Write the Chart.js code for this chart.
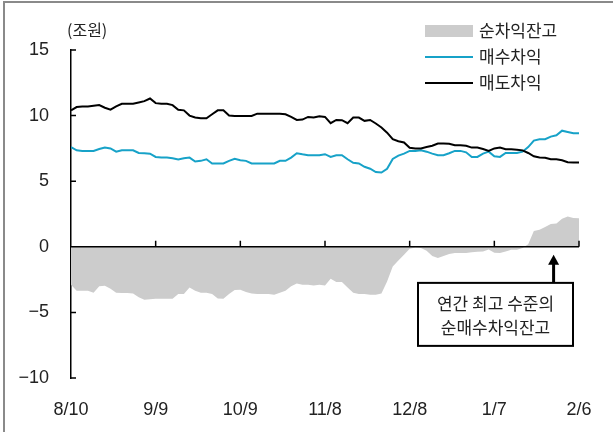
<!DOCTYPE html>
<html>
<head>
<meta charset="utf-8">
<script src="https://cdn.jsdelivr.net/npm/chart.js@4/dist/chart.umd.min.js"></script>
<style>
  body { margin: 0; background: #fff; }
  #wrap { position: relative; width: 613px; height: 432px; }
  #frame { position: absolute; left: 3px; top: 1px; right: 0; bottom: 0;
           border-top: 2px solid #8a8a8a; border-left: 2px solid #8a8a8a; pointer-events: none; }
  canvas { position: absolute; left: 0; top: 0; }
</style>
</head>
<body>
<div id="wrap">
  <canvas id="graphe" width="613" height="432"></canvas>
  <div id="frame"></div>
</div>
<script>
// x ticks (30 days apart, starting 8/10)
const tickLabels = ["8/10", "9/9", "10/9", "11/8", "12/8", "1/7", "2/6"];

// one point every 2 days, 8/10 -> 2/6
const days = Array.from({ length: 91 }, (_, i) => i * 2);

// 매수차익 (조원)
const achat = [
    7.6, 7.35, 7.31, 7.31, 7.31, 7.45, 7.56, 7.5, 7.25, 7.36,
    7.36, 7.36, 7.15, 7.13, 7.1, 6.85, 6.8, 6.8, 6.75, 6.65,
    6.75, 6.8, 6.5, 6.55, 6.67, 6.35, 6.35, 6.35, 6.55, 6.7,
    6.6, 6.55, 6.35, 6.35, 6.35, 6.35, 6.35, 6.55, 6.55, 6.8,
    7.13, 7.05, 6.98, 6.98, 6.98, 7.06, 6.85, 6.98, 6.98, 6.67,
    6.4, 6.35, 6.1, 5.95, 5.7, 5.66, 5.95, 6.7, 6.95, 7.1,
    7.31, 7.3, 7.35, 7.25, 7.1, 6.98, 6.98, 7.13, 7.31, 7.31,
    7.2, 6.85, 6.85, 7.1, 7.25, 6.9, 6.85, 7.15, 7.15, 7.15,
    7.25, 7.6, 8.1, 8.2, 8.2, 8.4, 8.5, 8.85, 8.75, 8.65,
    8.65
];

// 매도차익 (조원)
const vente = [
    10.4, 10.65, 10.7, 10.7, 10.75, 10.8, 10.6, 10.45, 10.7, 10.9,
    10.9, 10.9, 11.0, 11.1, 11.3, 10.95, 10.9, 10.9, 10.8, 10.45,
    10.4, 10.0, 9.85, 9.8, 9.8, 10.1, 10.4, 10.4, 10.0, 9.97,
    9.97, 9.97, 9.97, 10.15, 10.15, 10.15, 10.15, 10.15, 10.1, 9.9,
    9.67, 9.7, 9.9, 9.85, 9.95, 9.9, 9.42, 9.67, 9.65, 9.42,
    9.85, 9.85, 9.6, 9.67, 9.4, 9.1, 8.7, 8.2, 8.05, 7.95,
    7.55, 7.5, 7.5, 7.6, 7.7, 7.87, 7.87, 7.85, 7.74, 7.74,
    7.7, 7.56, 7.56, 7.45, 7.31, 7.5, 7.56, 7.44, 7.44, 7.4,
    7.35, 7.15, 6.9, 6.8, 6.78, 6.67, 6.67, 6.6, 6.45, 6.42,
    6.42
];

// 순차익잔고 (조원)
const solde = [
    -2.9, -3.35, -3.35, -3.35, -3.5, -3.0, -2.97, -3.2, -3.5, -3.53,
    -3.53, -3.55, -3.85, -4.04, -4.0, -3.96, -3.96, -3.96, -3.96, -3.6,
    -3.6, -3.1, -3.35, -3.5, -3.5, -3.6, -3.95, -3.96, -3.6, -3.3,
    -3.27, -3.45, -3.55, -3.6, -3.6, -3.6, -3.65, -3.5, -3.35, -3.0,
    -2.8, -2.9, -2.9, -2.95, -2.9, -2.95, -2.44, -2.69, -2.69, -3.1,
    -3.5, -3.6, -3.6, -3.65, -3.65, -3.55, -2.64, -1.5, -1.05, -0.6,
    -0.15, -0.05, -0.1, -0.3, -0.7, -0.86, -0.7, -0.55, -0.48, -0.48,
    -0.48, -0.42, -0.38, -0.36, -0.2, -0.45, -0.48, -0.35, -0.23, -0.23,
    -0.1, 0.2, 1.2, 1.3, 1.5, 1.73, 1.78, 2.13, 2.3, 2.2,
    2.18
];

const bleu = "#17a2c8";
const gris = "#cccccc";
const numFont = "18px 'Liberation Sans', Arial, sans-serif";
const krFont = "17px 'Noto Sans CJK KR', sans-serif";

// Décor : ligne du zéro, petits tirets, titre, légende et annotation
const decor = {
    id: "decor",
    afterDatasetsDraw(chart) {
        const ctx = chart.ctx;
        const x = chart.scales.x, y = chart.scales.y;
        const y0 = y.getPixelForValue(0);
        ctx.save();
        ctx.strokeStyle = "#000";
        ctx.lineWidth = 1.5;
        ctx.beginPath();
        ctx.moveTo(x.left, y0);
        ctx.lineTo(x.right, y0);
        // tirets de l'axe x, vers le haut
        x.ticks.forEach(t => {
            if (t.value === 0) return;
            const px = x.getPixelForValue(t.value);
            ctx.moveTo(px, y0);
            ctx.lineTo(px, y0 - 6);
        });
        // tirets de l'axe y, vers l'intérieur
        y.ticks.forEach(t => {
            const py = y.getPixelForValue(t.value);
            ctx.moveTo(x.left, py);
            ctx.lineTo(x.left + 5, py);
        });
        ctx.stroke();

        // unité
        ctx.fillStyle = "#222";
        ctx.font = "16px 'Noto Sans CJK KR', sans-serif";
        ctx.textAlign = "left";
        ctx.textBaseline = "middle";
        ctx.fillText("(조원)", 67, 30);

        // légende
        ctx.font = krFont;
        const ds = chart.data.datasets;
        const lx = 425, rows = [31, 57, 83];
        ds.forEach((d, i) => {
            const ly = rows[i];
            if (d.fill) {
                ctx.fillStyle = d.backgroundColor;
                ctx.fillRect(lx, ly - 6, 48, 12);
            } else {
                ctx.strokeStyle = d.borderColor;
                ctx.lineWidth = 2;
                ctx.beginPath();
                ctx.moveTo(lx, ly);
                ctx.lineTo(lx + 48, ly);
                ctx.stroke();
            }
            ctx.fillStyle = "#222";
            ctx.fillText(d.label, lx + 54, ly);
        });

        // annotation
        const ax = x.getPixelForValue(171);
        const tipY = y.getPixelForValue(-0.6);
        const boxTop = y.getPixelForValue(-2.75);
        const boxL = 418, boxR = 573, boxB = boxTop + 63;
        ctx.strokeStyle = "#000";
        ctx.lineWidth = 2;
        ctx.strokeRect(boxL, boxTop, boxR - boxL, boxB - boxTop);
        ctx.lineWidth = 3;
        ctx.beginPath();
        ctx.moveTo(ax, boxTop);
        ctx.lineTo(ax, tipY + 8);
        ctx.stroke();
        ctx.fillStyle = "#000";
        ctx.beginPath();
        ctx.moveTo(ax, tipY);
        ctx.lineTo(ax - 5.5, tipY + 10);
        ctx.lineTo(ax + 5.5, tipY + 10);
        ctx.closePath();
        ctx.fill();
        ctx.fillStyle = "#222";
        ctx.textAlign = "center";
        ctx.font = krFont;
        const cx = (boxL + boxR) / 2;
        ctx.fillText("연간 최고 수준의", cx, boxTop + 21);
        ctx.fillText("순매수차익잔고", cx, boxTop + 45);
        ctx.restore();
    }
};

function points(vals) {
    return days.map((d, i) => ({ x: d, y: vals[i] }));
}

window.onload = function () {
    const ctx = document.getElementById("graphe").getContext("2d");
    new Chart(ctx, {
        type: "line",
        data: {
            datasets: [{
                label: "순차익잔고",
                data: points(solde),
                backgroundColor: gris,
                borderWidth: 0,
                fill: "origin",
                pointRadius: 0,
                order: 3
            }, {
                label: "매수차익",
                data: points(achat),
                borderColor: bleu,
                borderWidth: 2,
                fill: false,
                pointRadius: 0,
                order: 2
            }, {
                label: "매도차익",
                data: points(vente),
                borderColor: "#000",
                borderWidth: 2,
                fill: false,
                pointRadius: 0,
                order: 1
            }]
        },
        options: {
            responsive: false,
            animation: false,
            layout: { padding: { top: 50, right: 34, left: 0, bottom: 0 } },
            plugins: {
                legend: { display: false },
                tooltip: { enabled: false }
            },
            scales: {
                x: {
                    type: "linear",
                    min: 0,
                    max: 180,
                    grid: { display: false, drawTicks: false },
                    border: { display: false },
                    ticks: {
                        stepSize: 30,
                        padding: 21,
                        color: "#222",
                        font: { family: "'Liberation Sans', Arial, sans-serif", size: 18 },
                        maxRotation: 0,
                        callback: v => tickLabels[v / 30]
                    },
                    afterFit: s => { s.height = 54; }
                },
                y: {
                    min: -10,
                    max: 15,
                    grid: { display: false, drawTicks: false },
                    border: { display: true, color: "#000", width: 1.5 },
                    ticks: {
                        stepSize: 5,
                        padding: 22,
                        color: "#222",
                        font: { family: "'Liberation Sans', Arial, sans-serif", size: 18 },
                        callback: v => (v < 0 ? "\u2212" + Math.abs(v) : String(v))
                    },
                    afterFit: s => { s.width = 71; }
                }
            }
        },
        plugins: [decor]
    });
};
</script>
</body>
</html>
